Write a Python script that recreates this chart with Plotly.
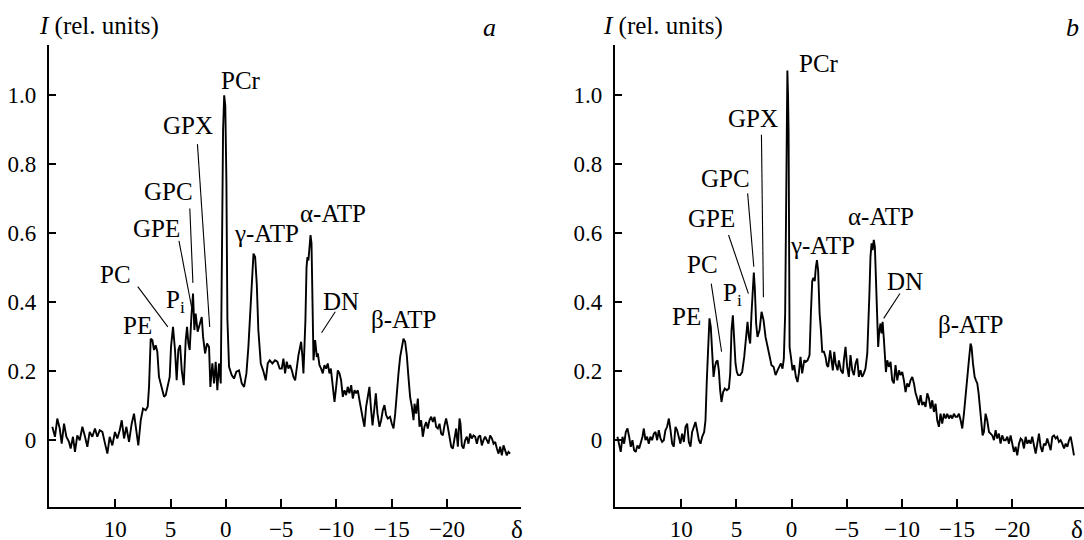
import plotly.graph_objects as go

# ---------------- data: panel a ----------------
delta_a = [15.70, 15.46, 15.25, 15.03, 14.85, 14.64, 14.43, 14.19, 14.04, 13.83, 13.65, 13.44, 13.22, 12.98,
           12.74, 12.53, 12.32, 12.08, 11.84, 11.63, 11.41, 11.17, 10.93, 10.72, 10.51, 10.27, 10.03, 9.82,
           9.60, 9.42, 9.21, 9.00, 8.76, 8.52, 8.31, 8.10, 7.92, 7.70, 7.49, 7.25, 7.07, 6.95, 6.80, 6.65,
           6.50, 6.35, 6.20, 6.05, 5.80, 5.59, 5.44, 5.29, 5.08, 4.96, 4.78, 4.60, 4.45, 4.30, 4.14, 3.99,
           3.81, 3.63, 3.51, 3.39, 3.27, 3.12, 2.97, 2.85, 2.73, 2.55, 2.36, 2.18, 2.06, 1.88, 1.70, 1.52,
           1.40, 1.22, 1.07, 0.92, 0.77, 0.62, 0.46, 0.37, 0.25, 0.15, 0.05, -0.05, -0.14, -0.29, -0.53,
           -0.74, -0.95, -1.19, -1.44, -1.65, -1.86, -2.04, -2.22, -2.35, -2.50, -2.65, -2.80, -2.94, -3.16,
           -3.37, -3.61, -3.79, -3.97, -4.21, -4.45, -4.66, -4.87, -5.06, -5.21, -5.36, -5.51, -5.66, -5.81,
           -5.97, -6.12, -6.27, -6.42, -6.57, -6.72, -6.81, -6.93, -7.02, -7.11, -7.20, -7.30, -7.38, -7.47,
           -7.56, -7.66, -7.75, -7.84, -7.93, -8.08, -8.23, -8.32, -8.47, -8.62, -8.77, -8.92, -9.07, -9.22,
           -9.37, -9.50, -9.65, -9.83, -9.98, -10.13, -10.28, -10.43, -10.58, -10.73, -10.88, -11.03, -11.18,
           -11.34, -11.49, -11.64, -11.79, -11.94, -12.09, -12.24, -12.39, -12.54, -12.69, -12.84, -12.99,
           -13.12, -13.27, -13.42, -13.57, -13.72, -13.90, -14.05, -14.20, -14.35, -14.50, -14.65, -14.86,
           -15.02, -15.17, -15.32, -15.47, -15.62, -15.77, -15.92, -16.07, -16.22, -16.37, -16.52, -16.67,
           -16.83, -16.98, -17.07, -17.22, -17.37, -17.52, -17.67, -17.82, -17.97, -18.12, -18.27, -18.42,
           -18.58, -18.73, -18.88, -19.03, -19.18, -19.33, -19.48, -19.63, -19.78, -19.93, -20.08, -20.23,
           -20.39, -20.54, -20.69, -20.84, -20.99, -21.14, -21.23, -21.35, -21.50, -21.65, -21.80, -21.95,
           -22.10, -22.25, -22.41, -22.56, -22.71, -22.86, -23.01, -23.16, -23.31, -23.46, -23.61, -23.76,
           -23.91, -24.07, -24.22, -24.37, -24.52, -24.67, -24.82, -24.97, -25.12, -25.27, -25.42, -25.57,
           -25.72]
intensity_a = [0.037, 0.008, 0.061, 0.032, -0.012, 0.046, 0.008, -0.007, -0.026, 0.008, -0.036, 0.012, -0.002,
               0.037, 0.008, -0.021, 0.022, 0.008, 0.032, 0.008, 0.027, 0.022, -0.012, -0.041, 0.008, -0.017,
               0.022, 0.003, 0.027, 0.056, 0.003, 0.037, -0.007, 0.046, 0.075, 0.017, -0.017, 0.056, 0.090,
               0.085, 0.095, 0.153, 0.293, 0.289, 0.260, 0.274, 0.255, 0.182, 0.153, 0.124, 0.129, 0.153,
               0.182, 0.269, 0.327, 0.260, 0.172, 0.260, 0.274, 0.201, 0.158, 0.289, 0.327, 0.279, 0.260,
               0.356, 0.424, 0.318, 0.366, 0.313, 0.337, 0.356, 0.298, 0.250, 0.279, 0.269, 0.153, 0.221,
               0.163, 0.226, 0.143, 0.221, 0.163, 0.50, 0.90, 1.00, 0.97, 0.75, 0.35, 0.211, 0.187, 0.177,
               0.197, 0.201, 0.163, 0.153, 0.192, 0.269, 0.366, 0.46, 0.54, 0.53, 0.45, 0.318, 0.221, 0.201,
               0.172, 0.221, 0.230, 0.221, 0.230, 0.226, 0.206, 0.206, 0.235, 0.192, 0.226, 0.206, 0.216,
               0.201, 0.182, 0.172, 0.211, 0.245, 0.269, 0.284, 0.240, 0.192, 0.269, 0.347, 0.50, 0.53, 0.52,
               0.55, 0.594, 0.57, 0.40, 0.230, 0.289, 0.240, 0.250, 0.216, 0.206, 0.192, 0.216, 0.206, 0.221,
               0.192, 0.206, 0.163, 0.109, 0.153, 0.201, 0.192, 0.172, 0.124, 0.143, 0.129, 0.153, 0.134,
               0.158, 0.119, 0.143, 0.134, 0.143, 0.114, 0.080, 0.061, 0.037, 0.095, 0.124, 0.153, 0.095,
               0.041, 0.085, 0.134, 0.075, 0.037, 0.056, 0.085, 0.100, 0.071, 0.061, 0.066, 0.046, 0.032,
               0.075, 0.143, 0.192, 0.240, 0.269, 0.293, 0.284, 0.245, 0.182, 0.124, 0.095, 0.056, 0.104,
               0.075, 0.119, 0.037, 0.056, 0.008, 0.037, 0.051, 0.032, 0.056, 0.066, 0.051, 0.066, 0.037,
               0.032, 0.046, 0.017, 0.012, 0.041, 0.061, 0.037, 0.008, -0.021, -0.026, -0.002, 0.032, -0.021,
               0.061, 0.046, -0.017, -0.026, -0.002, 0.008, -0.012, 0.017, 0.003, 0.012, 0.008, -0.012, 0.008,
               0.012, -0.017, -0.002, 0.008, -0.002, -0.012, 0.012, 0.003, -0.012, -0.007, -0.026, -0.041,
               -0.021, -0.046, -0.017, -0.031, -0.046, -0.036, -0.041]

# ---------------- data: panel b ----------------
delta_b = [15.78, 15.63, 15.48, 15.32, 15.17, 15.02, 14.87, 14.72, 14.57, 14.42, 14.27, 14.12, 13.97, 13.81,
           13.66, 13.51, 13.39, 13.24, 13.09, 12.94, 12.79, 12.64, 12.48, 12.33, 12.18, 12.03, 11.88, 11.73,
           11.58, 11.43, 11.28, 11.12, 10.97, 10.82, 10.67, 10.52, 10.37, 10.22, 10.07, 9.92, 9.76, 9.61,
           9.46, 9.31, 9.16, 9.01, 8.86, 8.71, 8.56, 8.40, 8.25, 8.10, 7.92, 7.80, 7.68, 7.56, 7.44, 7.32,
           7.20, 7.07, 6.95, 6.83, 6.71, 6.59, 6.47, 6.35, 6.20, 6.05, 5.87, 5.68, 5.56, 5.44, 5.32, 5.20,
           5.08, 4.96, 4.84, 4.66, 4.48, 4.29, 4.11, 3.99, 3.87, 3.75, 3.63, 3.51, 3.42, 3.33, 3.21, 3.09,
           2.90, 2.72, 2.54, 2.36, 2.18, 2.00, 1.82, 1.63, 1.45, 1.27, 1.09, 0.97, 0.82, 0.70, 0.58, 0.52,
           0.47, 0.42, 0.38, 0.32, 0.27, 0.22, 0.18, 0.06, -0.09, -0.24, -0.39, -0.54, -0.66, -0.81, -0.96,
           -1.15, -1.30, -1.45, -1.63, -1.75, -1.87, -1.98, -2.10, -2.20, -2.30, -2.41, -2.54, -2.66, -2.78,
           -2.93, -3.08, -3.20, -3.32, -3.50, -3.62, -3.74, -3.87, -3.99, -4.17, -4.29, -4.47, -4.65, -4.74,
           -4.89, -5.04, -5.19, -5.34, -5.50, -5.65, -5.80, -5.95, -6.10, -6.25, -6.40, -6.55, -6.70, -6.86,
           -6.98, -7.05, -7.15, -7.25, -7.35, -7.45, -7.55, -7.65, -7.70, -7.76, -7.85, -7.94, -8.06, -8.15,
           -8.25, -8.37, -8.46, -8.55, -8.67, -8.82, -8.97, -9.12, -9.27, -9.42, -9.58, -9.73, -9.88, -10.03,
           -10.18, -10.33, -10.48, -10.63, -10.78, -10.94, -11.09, -11.24, -11.39, -11.54, -11.69, -11.84,
           -11.99, -12.14, -12.30, -12.45, -12.60, -12.75, -12.90, -13.05, -13.20, -13.35, -13.50, -13.65,
           -13.81, -13.96, -14.11, -14.26, -14.41, -14.56, -14.71, -14.86, -15.01, -15.17, -15.32, -15.47,
           -15.62, -15.77, -15.92, -16.07, -16.22, -16.31, -16.44, -16.59, -16.71, -16.83, -16.95, -17.07,
           -17.19, -17.31, -17.43, -17.58, -17.73, -17.89, -18.04, -18.19, -18.34, -18.49, -18.64, -18.79,
           -18.94, -19.09, -19.25, -19.40, -19.55, -19.70, -19.85, -20.00, -20.15, -20.30, -20.45, -20.61,
           -20.76, -20.91, -21.06, -21.21, -21.36, -21.51, -21.66, -21.81, -21.97, -22.12, -22.27, -22.42,
           -22.57, -22.72, -22.87, -23.02, -23.17, -23.33, -23.48, -23.63, -23.78, -23.93, -24.08, -24.23,
           -24.38, -24.53, -24.69, -24.84, -24.99, -25.14, -25.29, -25.44, -25.59]
intensity_b = [0.008, -0.012, -0.036, 0.008, -0.012, 0.022, 0.032, 0.008, -0.021, -0.002, -0.031, -0.036, -0.017,
               -0.026, -0.012, 0.008, 0.032, -0.002, 0.008, -0.012, 0.008, -0.002, 0.017, 0.022, -0.002, 0.027,
               0.003, -0.007, -0.002, 0.027, 0.037, 0.061, 0.027, -0.012, -0.021, 0.037, 0.027, 0.003, -0.012,
               0.017, -0.007, 0.037, 0.046, -0.007, -0.021, 0.022, 0.037, 0.051, 0.027, -0.002, -0.012, 0.008,
               0.022, 0.056, 0.172, 0.269, 0.352, 0.327, 0.269, 0.182, 0.211, 0.226, 0.230, 0.201, 0.143,
               0.109, 0.138, 0.148, 0.143, 0.148, 0.192, 0.318, 0.361, 0.298, 0.221, 0.196, 0.187, 0.187,
               0.196, 0.240, 0.293, 0.342, 0.298, 0.279, 0.366, 0.44, 0.485, 0.44, 0.337, 0.298, 0.318, 0.371,
               0.347, 0.298, 0.269, 0.245, 0.216, 0.211, 0.187, 0.201, 0.211, 0.221, 0.206, 0.235, 0.366, 0.55,
               0.80, 1.00, 1.072, 1.00, 0.89, 0.55, 0.269, 0.240, 0.201, 0.216, 0.182, 0.167, 0.192, 0.240,
               0.192, 0.230, 0.226, 0.230, 0.245, 0.366, 0.46, 0.47, 0.46, 0.50, 0.521, 0.49, 0.366, 0.318,
               0.255, 0.255, 0.240, 0.216, 0.211, 0.259, 0.230, 0.201, 0.255, 0.221, 0.201, 0.230, 0.201,
               0.192, 0.230, 0.269, 0.211, 0.182, 0.245, 0.201, 0.187, 0.221, 0.235, 0.182, 0.201, 0.182,
               0.192, 0.206, 0.250, 0.337, 0.42, 0.53, 0.57, 0.55, 0.58, 0.56, 0.45, 0.405, 0.347, 0.269,
               0.313, 0.337, 0.308, 0.342, 0.289, 0.250, 0.196, 0.230, 0.211, 0.226, 0.172, 0.163, 0.216,
               0.172, 0.201, 0.187, 0.196, 0.172, 0.138, 0.163, 0.153, 0.172, 0.182, 0.163, 0.134, 0.119,
               0.100, 0.129, 0.100, 0.109, 0.095, 0.134, 0.119, 0.090, 0.114, 0.080, 0.104, 0.056, 0.037,
               0.075, 0.046, 0.075, 0.061, 0.075, 0.061, 0.071, 0.061, 0.075, 0.066, 0.066, 0.075, 0.056,
               0.032, 0.075, 0.134, 0.182, 0.230, 0.279, 0.269, 0.221, 0.182, 0.172, 0.163, 0.134, 0.085,
               0.037, 0.012, 0.022, 0.075, 0.056, 0.022, 0.017, 0.012, -0.002, 0.027, 0.003, 0.017, -0.012,
               0.012, -0.002, -0.002, 0.008, -0.012, 0.012, -0.012, -0.036, -0.021, -0.046, -0.012, 0.003,
               -0.002, -0.026, 0.008, -0.012, -0.002, -0.012, 0.008, -0.021, -0.041, -0.012, 0.017, -0.021,
               -0.036, -0.012, -0.017, 0.003, -0.012, -0.031, 0.008, 0.012, 0.003, 0.008, -0.007, -0.002,
               -0.012, -0.026, -0.012, -0.021, -0.002, 0.008, -0.017, -0.046]

# tick labels
x_ticks = [10, 5, 0, -5, -10, -15, -20]
x_ticktext = ["10", "5", "0", "\u22125", "\u221210", "\u221215", "\u221220"]
y_ticks = [0, 0.2, 0.4, 0.6, 0.8, 1.0]
y_ticktext = ["0", "0.2", "0.4", "0.6", "0.8", "1.0"]

# peak labels: (text, x, y) and leader lines (x0, y0, x1, y1)
labels_a = [("PCr", -1.35, 1.044), ("GPX", 3.43, 0.911), ("GPC", 5.18, 0.72), ("GPE", 6.27, 0.613),
            ("PC", 10.0, 0.478), ("P<sub>i</sub>", 4.6, 0.40), ("PE", 8.0, 0.332),
            ("\u03b3-ATP", -3.7, 0.599), ("\u03b1-ATP", -9.66, 0.657), ("DN", -10.38, 0.40),
            ("\u03b2-ATP", -16.1, 0.349)]
leaders_a = [(2.57, 0.858, 1.46, 0.327), (3.26, 0.671, 2.98, 0.455), (4.24, 0.577, 3.1, 0.385),
             (7.97, 0.444, 5.25, 0.327), (-9.9, 0.371, -8.66, 0.31)]
labels_b = [("PCr", -2.45, 1.091), ("GPX", 3.51, 0.933), ("GPC", 6.02, 0.759), ("GPE", 7.28, 0.642),
            ("PC", 8.06, 0.507), ("P<sub>i</sub>", 5.35, 0.42), ("PE", 9.55, 0.358),
            ("\u03b3-ATP", -2.82, 0.565), ("\u03b1-ATP", -8.09, 0.647), ("DN", -10.29, 0.458),
            ("\u03b2-ATP", -16.25, 0.335)]
leaders_b = [(2.73, 0.885, 2.55, 0.413), (3.98, 0.715, 3.42, 0.502), (5.71, 0.594, 3.91, 0.424),
             (7.28, 0.453, 6.34, 0.255), (-9.82, 0.424, -8.35, 0.352)]

FONT = "Liberation Serif"
TICK_SIZE = 23
LABEL_SIZE = 25

W, H = 1084, 540
ML, MR, MT, MB = 49, 0, 45, 33
plot_w, plot_h = W - ML - MR, H - MT - MB


def px_to_paper(px, py):
    """Convert a pixel position in the 1084x540 figure to paper coordinates."""
    return (px - ML) / plot_w, (H - MB - py) / plot_h


fig = go.Figure()
fig.add_trace(go.Scatter(x=delta_a, y=intensity_a, mode="lines", xaxis="x", yaxis="y",
                         line=dict(color="black", width=1.9), showlegend=False, hoverinfo="skip"))
fig.add_trace(go.Scatter(x=delta_b, y=intensity_b, mode="lines", xaxis="x2", yaxis="y2",
                         line=dict(color="black", width=1.9), showlegend=False, hoverinfo="skip"))

common_x = dict(tickmode="array", tickvals=x_ticks, ticktext=x_ticktext, ticks="inside", ticklen=8,
                tickwidth=1.5, tickcolor="black", showline=True, linecolor="black", linewidth=2,
                showgrid=False, zeroline=False, tickfont=dict(family=FONT, size=TICK_SIZE, color="black"),
                ticklabelstandoff=0, automargin=False)
common_y = dict(tickmode="array", tickvals=y_ticks, ticktext=y_ticktext, ticks="inside", ticklen=7,
                tickwidth=1.5, tickcolor="black", showline=True, linecolor="black", linewidth=2.2,
                showgrid=False, zeroline=False, tickfont=dict(family=FONT, size=TICK_SIZE, color="black"),
                range=[-0.196, 1.146], ticklabelstandoff=6, automargin=False)

fig.update_layout(
    width=W, height=H, margin=dict(l=ML, r=MR, t=MT, b=MB, autoexpand=False),
    paper_bgcolor="white", plot_bgcolor="white",
    xaxis=dict(domain=[0, 0.456], range=[16, -26.7], anchor="y", **common_x),
    yaxis=dict(domain=[0, 1], anchor="x", **common_y),
    xaxis2=dict(domain=[(615 - ML) / plot_w, 1.0], range=[16, -26.5], anchor="y2", **common_x),
    yaxis2=dict(domain=[0, 1], anchor="x2", **common_y),
    font=dict(family=FONT, color="black"),
)

lab_font = dict(family=FONT, size=LABEL_SIZE, color="black")
annotations = []
shapes = []
for (txt, xv, yv) in labels_a:
    annotations.append(dict(text=txt, x=xv, y=yv, xref="x", yref="y", showarrow=False,
                            xanchor="center", yanchor="middle", font=lab_font))
for (txt, xv, yv) in labels_b:
    annotations.append(dict(text=txt, x=xv, y=yv, xref="x2", yref="y2", showarrow=False,
                            xanchor="center", yanchor="middle", font=lab_font))
for (x0, y0, x1, y1) in leaders_a:
    shapes.append(dict(type="line", x0=x0, y0=y0, x1=x1, y1=y1, xref="x", yref="y",
                       line=dict(color="black", width=1.1)))
for (x0, y0, x1, y1) in leaders_b:
    shapes.append(dict(type="line", x0=x0, y0=y0, x1=x1, y1=y1, xref="x2", yref="y2",
                       line=dict(color="black", width=1.1)))

# captions placed by pixel position
captions = [("<i>I</i> (rel. units)", 37, 26, "left", LABEL_SIZE),
            ("<i>I</i> (rel. units)", 601, 26, "left", LABEL_SIZE),
            ("<i>a</i>", 489, 27, "center", 26),
            ("<i>b</i>", 1072, 27, "center", 26)]
for (txt, px, py, xa, fs) in captions:
    xp, yp = px_to_paper(px, py)
    annotations.append(dict(text=txt, x=xp, y=yp, xref="paper", yref="paper", showarrow=False,
                            xanchor=xa, yanchor="middle", font=dict(family=FONT, size=fs, color="black")))

# axis symbol δ at the right end of each x axis
_, delta_y = px_to_paper(0, 529)
annotations += [
    dict(text="\u03b4", x=-26.3, y=delta_y, xref="x", yref="paper", showarrow=False,
         xanchor="center", yanchor="middle", font=lab_font),
    dict(text="\u03b4", x=-25.9, y=delta_y, xref="x2", yref="paper", showarrow=False,
         xanchor="center", yanchor="middle", font=lab_font),
]
fig.update_layout(annotations=annotations, shapes=shapes)

# remove the default 8px page margin so the figure fills the 1084x540 window exactly
fig.write_html("out.html", config={"displayModeBar": False},
               post_script="document.body.style.margin='0';document.body.style.overflow='hidden';")
